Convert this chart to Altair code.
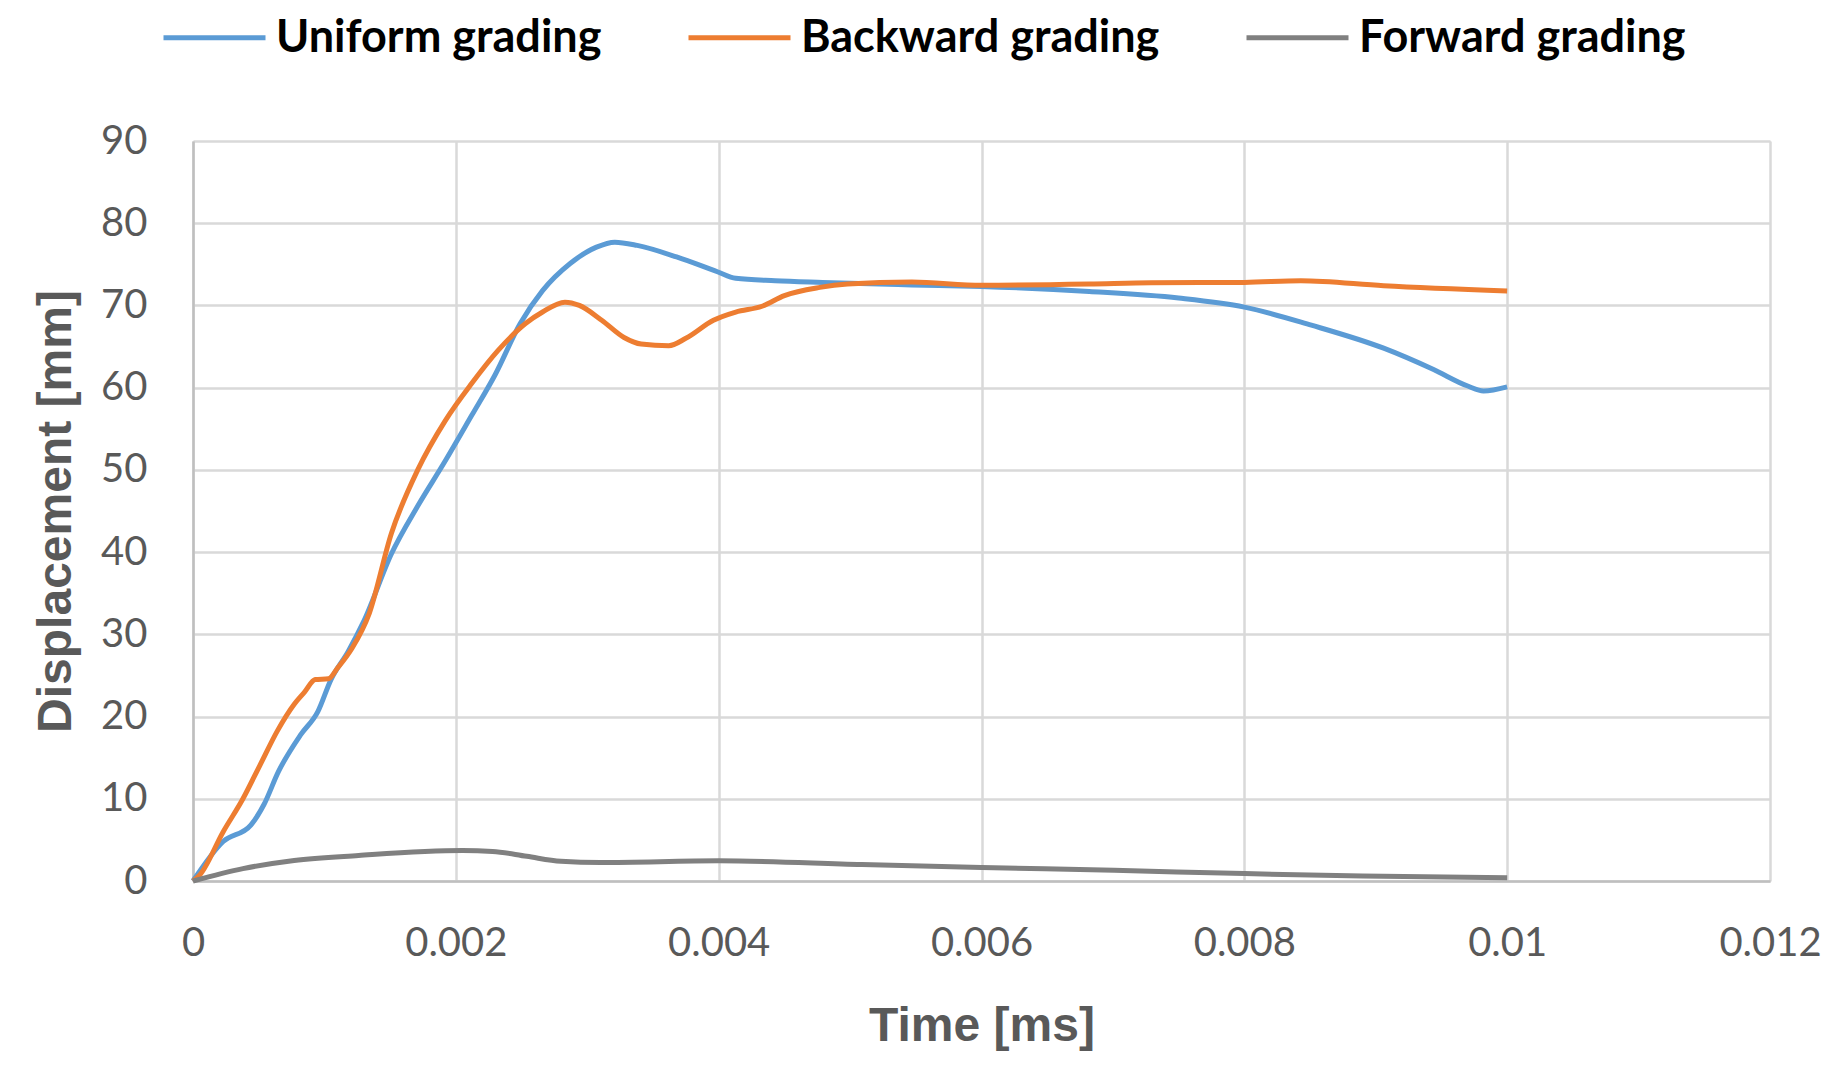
import altair as alt
import pandas as pd

series_names = ["Uniform grading", "Backward grading", "Forward grading"]
series_colors = ["#5B9BD5", "#ED7D31", "#808080"]

uniform_t = [0, 0.00023, 0.00044, 0.00054, 0.00065, 0.00082, 0.00095, 0.00105, 0.00118, 0.0013,
             0.00151, 0.00171, 0.00192, 0.00212, 0.0023, 0.00249, 0.00266, 0.00287, 0.00307, 0.00321,
             0.00338, 0.00368, 0.00399, 0.00413, 0.00443, 0.00479, 0.00547, 0.006, 0.00682, 0.0075,
             0.008, 0.00851, 0.00906, 0.00944, 0.0097, 0.00982, 0.01]
uniform_v = [0, 4.8, 6.8, 9.3, 13.3, 17.8, 20.6, 24.5, 27.9, 31.6,
             39.8, 45.6, 51.1, 56.6, 61.6, 67.8, 71.8, 75.1, 77.1, 77.7,
             77.3, 75.9, 74.1, 73.3, 73.0, 72.8, 72.5, 72.3, 71.7, 70.9,
             69.8, 67.6, 64.8, 62.2, 60.2, 59.6, 60.1]

backward_t = [0, 0.00005, 0.00023, 0.00038, 0.00051, 0.00064, 0.00077, 0.00085, 0.00093, 0.00103,
              0.0011, 0.00121, 0.00134, 0.00151, 0.00171, 0.00192, 0.00212, 0.00232, 0.00253, 0.00266,
              0.00283, 0.00294, 0.00311, 0.00328, 0.00341, 0.00362, 0.00375, 0.00396, 0.00413, 0.00433,
              0.0045, 0.00477, 0.00498, 0.00547, 0.006, 0.00682, 0.00729, 0.008, 0.00843, 0.00906, 0.01]
backward_v = [0, 0.7, 6.0, 10.0, 14.1, 18.2, 21.5, 23.0, 24.5, 24.6,
              25.9, 28.3, 32.5, 42.3, 50.0, 56.0, 60.5, 64.5, 67.8, 69.2,
              70.4, 70.0, 68.2, 66.1, 65.3, 65.1, 66.0, 68.2, 69.2, 69.9,
              71.2, 72.2, 72.6, 72.85, 72.45, 72.6, 72.76, 72.8, 73.0, 72.4, 71.75]

forward_t = [0, 0.00038, 0.00077, 0.00126, 0.00205, 0.00228, 0.00254, 0.0028, 0.0031, 0.004,
             0.00509, 0.006, 0.00701, 0.008, 0.0089, 0.01]
forward_v = [0, 1.5, 2.5, 3.1, 3.7, 3.6, 3.0, 2.4, 2.25, 2.45,
             2.0, 1.65, 1.3, 0.9, 0.6, 0.4]

x_ticks = [0, 0.002, 0.004, 0.006, 0.008, 0.01, 0.012]
y_ticks = [0, 10, 20, 30, 40, 50, 60, 70, 80, 90]

rows = []
for name, ts, vs in zip(series_names,
                        [uniform_t, backward_t, forward_t],
                        [uniform_v, backward_v, forward_v]):
    for t, v in zip(ts, vs):
        rows.append({"series": name, "t": t, "v": v})
df = pd.DataFrame(rows)

W, H = 1577, 740

chart = alt.Chart(df).mark_line(interpolate="monotone", strokeWidth=5).encode(
    x=alt.X("t:Q",
            scale=alt.Scale(domain=[0, 0.012], nice=False, zero=True),
            axis=alt.Axis(values=x_ticks, format="~g", title="Time [ms]",
                          labelFont="Lato", labelFontSize=40, labelColor="#595959",
                          labelPadding=62, labelBaseline="middle", labelFlush=False,
                          labelOverlap=False,
                          ticks=False, domainColor="#BFBFBF", domainWidth=2.5,
                          grid=True, gridColor="#D9D9D9", gridWidth=2.5,
                          titleFont="Liberation Sans", titleFontWeight="bold",
                          titleFontSize=48, titleColor="#595959",
                          titleX=W / 2, titleY=159, titleBaseline="alphabetic",
                          titleAlign="center")),
    y=alt.Y("v:Q",
            scale=alt.Scale(domain=[0, 90], nice=False),
            axis=alt.Axis(values=y_ticks, title="Displacement [mm]",
                          labelFont="Lato", labelFontSize=40, labelColor="#595959",
                          labelPadding=46, labelFlush=False, labelOverlap=False,
                          ticks=False, domainColor="#BFBFBF", domainWidth=2.5,
                          grid=True, gridColor="#D9D9D9", gridWidth=2.5,
                          titleFont="Liberation Sans", titleFontWeight="bold",
                          titleFontSize=48, titleColor="#595959",
                          titleX=-123, titleY=H / 2, titleBaseline="alphabetic",
                          titleAlign="center", titleAngle=270)),
    color=alt.Color("series:N",
                    scale=alt.Scale(domain=series_names, range=series_colors),
                    sort=series_names,
                    legend=alt.Legend(title=None, orient="none", legendX=-32, legendY=-157,
                                      direction="horizontal", symbolType="stroke",
                                      symbolSize=10404, symbolStrokeWidth=5,
                                      labelFont="Lato", labelFontWeight="bold",
                                      labelFontSize=45, labelColor="#000000",
                                      labelLimit=0,
                                      labelOffset=8, columnPadding=76, padding=0,
                                      rowPadding=0)),
).properties(
    width=W, height=H,
    autosize=alt.AutoSizeParams(type="none"),
    padding={"left": 185, "top": 133, "right": 62, "bottom": 172},
).configure_view(stroke=None).configure(background="white")

chart.save("out.html", embed_options={"renderer": "svg", "actions": False})
